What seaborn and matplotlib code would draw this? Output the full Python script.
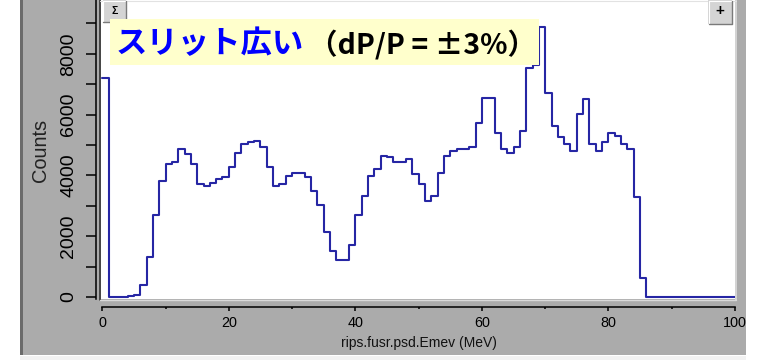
import numpy as np
import pandas as pd
import matplotlib
matplotlib.use("Agg")
import matplotlib.pyplot as plt
from matplotlib.patches import Rectangle
from matplotlib.lines import Line2D
import seaborn as sns

# Energy spectrum, 1 MeV bins from 0 to 100 MeV
bin_lo = np.arange(0, 100, 1)
counts = [
    7190, 0, 15, 15, 20, 70, 400, 1300, 2690, 3830,          # 0-9
    4360, 4440, 4860, 4690, 4360, 3710, 3650, 3760, 3890, 3950,  # 10-19
    4265, 4750, 5020, 5100, 5140, 4920, 4265, 3650, 3705, 3980,  # 20-29
    4090, 4090, 3960, 3500, 3015, 2140, 1525, 1215, 1215, 1710,  # 30-39
    2690, 3330, 3990, 4210, 4640, 4595, 4430, 4430, 4540, 4045,  # 40-49
    3715, 3170, 3330, 4090, 4640, 4815, 4870, 4870, 4930, 5715,  # 50-59
    6535, 6535, 5405, 4870, 4750, 4925, 5460, 7520, 7630, 8890,  # 60-69
    6700, 5625, 5255, 5035, 4805, 6020, 6500, 5035, 4815, 5090,  # 70-79
    5405, 5295, 5035, 4870, 3300, 615, 10, 10, 10, 10,           # 80-89
    10, 10, 10, 10, 10, 10, 10, 10, 10, 10,                      # 90-99
]
x_major_ticks = [0, 20, 40, 60, 80, 100]
x_minor_ticks = [10, 30, 50, 70, 90]
y_major_ticks = [0, 2000, 4000, 6000, 8000]
y_minor_ticks = [1000, 3000, 5000, 7000, 9000]
x_label = "rips.fusr.psd.Emev (MeV)"
y_label = "Counts"
title_main = "スリット広い"
title_note = "（dP/P = ±3%）"

sns.set_style("ticks")
plt.rcParams["font.family"] = ["Liberation Sans", "DejaVu Sans"]

W, H = 759, 360
fig = plt.figure(figsize=(W / 100, H / 100), dpi=100, facecolor="white")


def fx(px):
    return px / W


def fy(py):
    return 1 - py / H


def fig_rect(x0, y0, x1, y1, **kw):
    r = Rectangle((fx(x0), fy(y1)), fx(x1) - fx(x0), fy(y0) - fy(y1),
                  transform=fig.transFigure, linewidth=0, **kw)
    fig.add_artist(r)
    return r


def fig_line(xs, ys, **kw):
    ln = Line2D([fx(v) for v in xs], [fy(v) for v in ys],
                transform=fig.transFigure, **kw)
    fig.add_artist(ln)
    return ln


# gray window panel behind the plot
fig_rect(20, 0, 746, 355, facecolor="#ababab", zorder=-2)
fig_rect(20, 0, 22.5, 355, facecolor="#6b6b6b", zorder=-1)

ax = fig.add_axes([fx(101), fy(299), fx(735) - fx(101), fy(0) - fy(299)])
ax.set_facecolor("white")

spectrum = pd.DataFrame({"emev": bin_lo + 0.5, "counts": counts})
sns.histplot(data=spectrum, x="emev", weights="counts", binwidth=1,
             binrange=(0, 100), element="step", fill=False,
             color="#2626a4", linewidth=1.5, ax=ax)

ax.set_xlim(-0.2, 100.0)
ax.set_ylim(-66, 9770)
ax.set_xlabel("")
ax.set_ylabel("")

for side in ("top", "right"):
    ax.spines[side].set_visible(False)
ax.spines["left"].set_position(("outward", 3.9))
ax.spines["bottom"].set_position(("outward", 5.5))
ax.spines["bottom"].set_bounds(0, 100)
for side in ("left", "bottom"):
    ax.spines[side].set_linewidth(1.1)
    ax.spines[side].set_color("black")

ax.set_xticks(x_major_ticks)
ax.set_xticks(x_minor_ticks, minor=True)
ax.set_yticks(y_major_ticks)
ax.set_yticks(y_minor_ticks, minor=True)
ax.tick_params(axis="x", which="major", length=2.9, width=1.1, pad=3.6,
               labelsize=10.4, colors="black")
ax.tick_params(axis="x", which="minor", length=1.5, width=1.1, colors="black")
ax.tick_params(axis="y", which="both", length=7.2, width=1.1, colors="black")
ax.tick_params(axis="y", which="major", pad=6.0, labelsize=14)
for lab in ax.get_yticklabels():
    lab.set_rotation(90)
    lab.set_va("center")

# frame edges of the drawing area
fig_line([99.8, 99.8], [0, 300], color="#333333", linewidth=1.2, zorder=2)
fig_line([100, 736], [299.6, 299.6], color="#d9d9d9", linewidth=1.0, zorder=2)
fig_line([735.8, 735.8], [0, 300], color="#dcdcdc", linewidth=1.2, zorder=2)
fig_line([100, 736], [0.5, 0.5], color="#e2e2e2", linewidth=0.8, zorder=2)

# axis titles
fig.text(fx(419), fy(343), x_label, ha="center", va="center",
         fontsize=10, color="#111111")
fig.text(fx(40.5), fy(150), y_label, ha="center", va="center", rotation=90,
         fontsize=14.4, color="#222222")

# clip the panel at its right border
fig_rect(746, 0, 759, 360, facecolor="white", zorder=1)
fig_rect(20, 355.5, 746, 360, facecolor="#f2f2f2", zorder=1)

# window buttons
fig_rect(103, 0, 126, 22, facecolor="#d4d4d4", zorder=3)
fig_line([103.5, 103.5, 125.5], [22, 0.5, 0.5], color="white", linewidth=0.8, zorder=3)
fig_line([103.5, 125.5, 125.5], [22, 22, 0.5], color="#7a7a7a", linewidth=1.0, zorder=3)
fig.text(fx(114.5), fy(11), "Σ", ha="center", va="center", fontsize=7.5,
         fontweight="bold", color="black", zorder=4)
fig_rect(708, 0, 732, 24, facecolor="#d4d4d4", zorder=3)
fig_line([708.5, 708.5, 731.5], [24, 0.5, 0.5], color="white", linewidth=0.8, zorder=3)
fig_line([708.5, 731.5, 731.5], [24, 24, 0.5], color="#7a7a7a", linewidth=1.0, zorder=3)
fig.text(fx(720), fy(11.5), "+", ha="center", va="center", fontsize=11,
         fontweight="bold", color="black", zorder=4)

# annotation box over the plot
fig_rect(110, 19, 539, 65, facecolor="#ffffcc", zorder=3)
fig.text(fx(115.5), fy(44.5), title_main, ha="left", va="center", fontsize=22.6,
         fontweight="bold", color="#0000ff",
         family=["Noto Sans CJK JP", "DejaVu Sans"], zorder=4)
fig.text(fx(309), fy(45), title_note, ha="left", va="center", fontsize=20.5,
         fontweight="bold", color="black",
         family=["Noto Sans CJK JP", "DejaVu Sans"], zorder=4)

fig.savefig("out.png", dpi=100, facecolor="white")
